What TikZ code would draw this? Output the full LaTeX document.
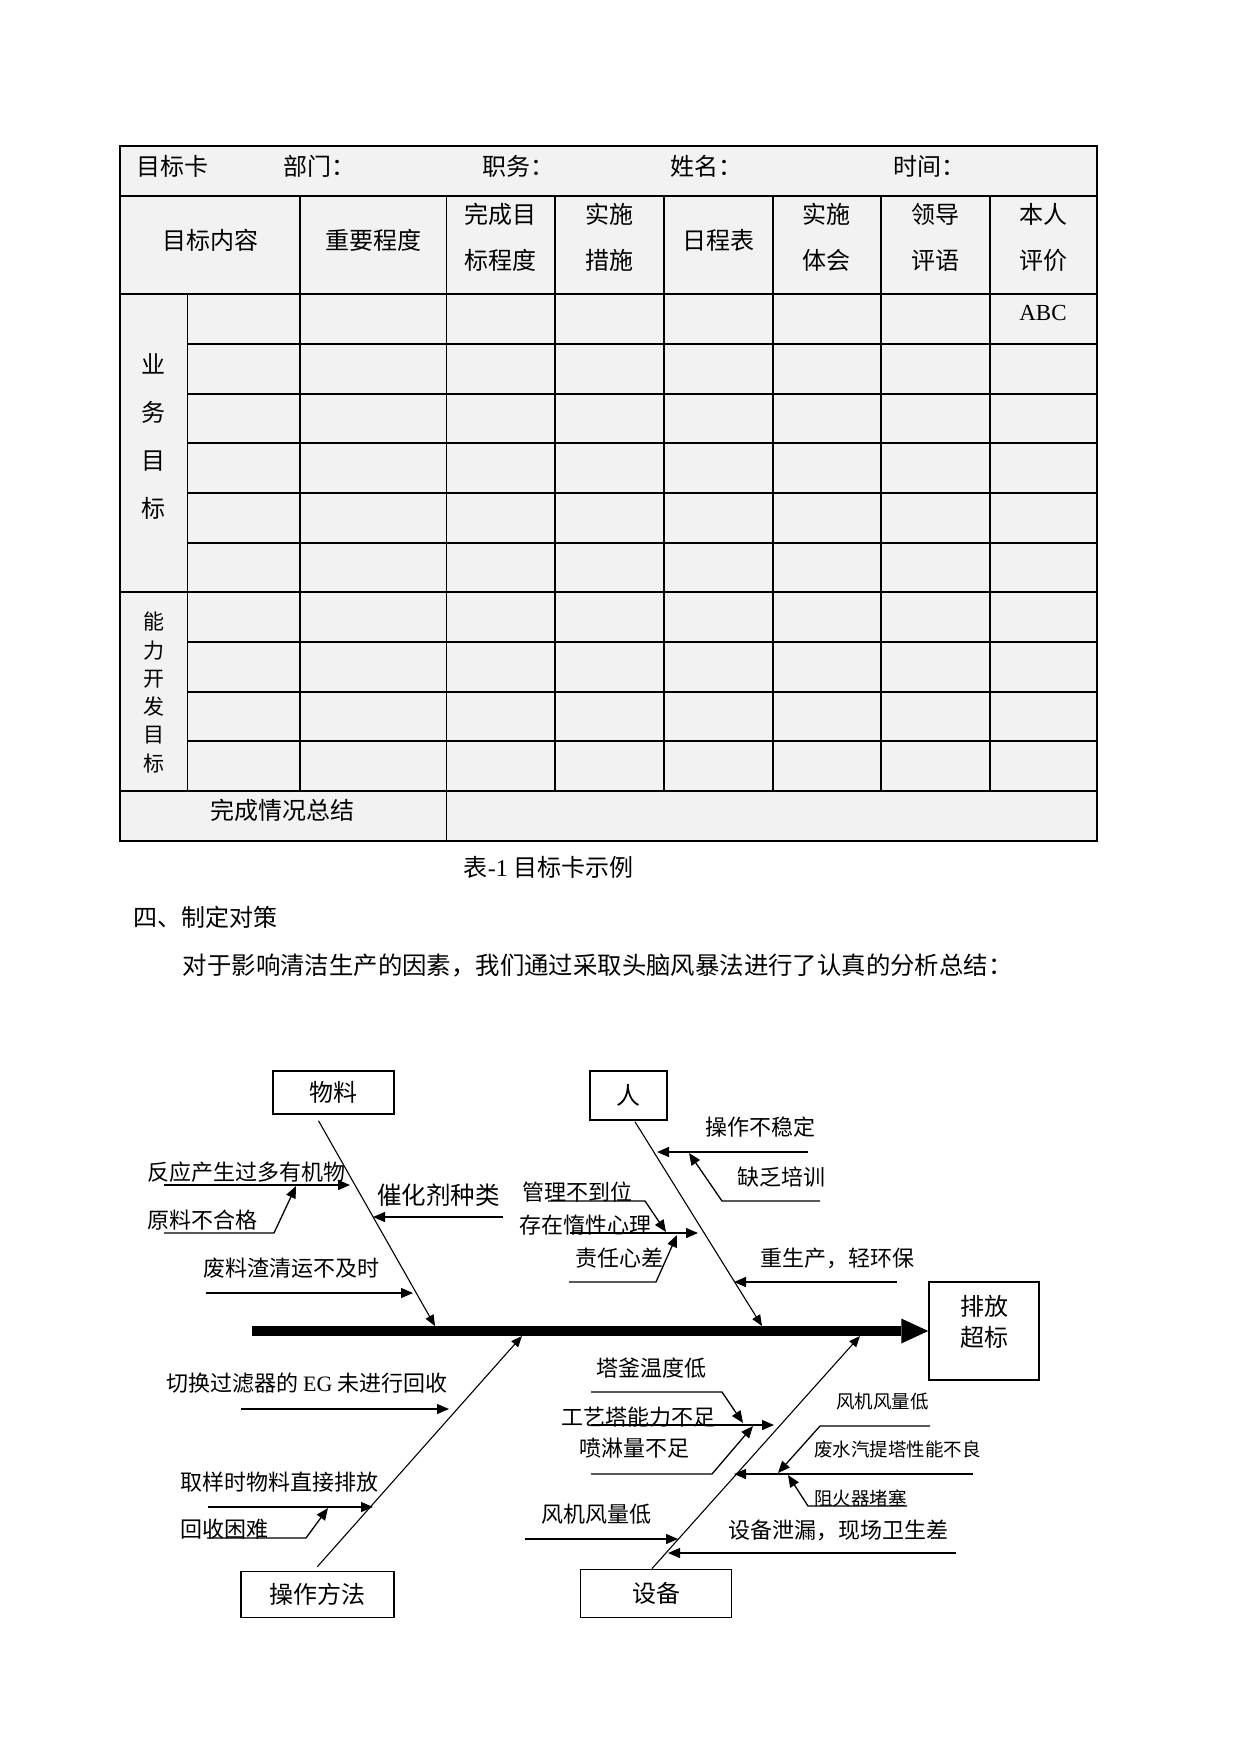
\documentclass[tikz,border=0pt]{standalone}
\usepackage{fontspec}
\setmainfont{Noto Sans CJK SC}
\newfontfamily\latinserif{Liberation Serif}
\usetikzlibrary{arrows.meta}
\definecolor{cardgray}{HTML}{F2F2F2}

\tikzset{
  cell/.style={inner sep=0pt, align=center, font=\fontsize{24}{46}\selectfont},
  lbl/.style={inner sep=0pt, anchor=west, font=\fontsize{22}{26}\selectfont},
  lblsm/.style={inner sep=0pt, anchor=west, font=\fontsize{18.5}{22}\selectfont},
  box/.style={draw, line width=1.5pt, inner sep=0pt, font=\fontsize{24}{31}\selectfont},
  rule/.style={line width=1.1pt},
  bone/.style={line width=1.1pt, -{Triangle[length=11pt,width=9pt]}},
  cause/.style={line width=1.3pt, -{Triangle[length=12pt,width=10pt]}},
}

\begin{document}
\begin{tikzpicture}[x=1pt,y=-1pt]
\useasboundingbox[fill=white] (0,0) rectangle (1241,1754);

% target card table
\fill[cardgray] (120,146) rectangle (1097,841);
\draw[rule] (120,196) -- (1097,196) (120,294) -- (1097,294)
            (120,592) -- (1097,592) (120,791) -- (1097,791);
\draw[rule] (187,344) -- (1097,344) (187,443) -- (1097,443) (187,493) -- (1097,493)
            (187,642) -- (1097,642) (187,692) -- (1097,692) (187,741) -- (1097,741);
\draw[line width=1.6pt] (187,394) -- (1097,394) (187,543) -- (1097,543);
\draw[line width=1pt] (187,294) -- (187,791) (446,196) -- (446,841);
\draw[line width=2pt] (300,196) -- (300,791) (555,196) -- (555,791) (663.6,196) -- (663.6,791)
            (772.6,196) -- (772.6,791) (881,196) -- (881,791) (989.5,196) -- (989.5,791);
\draw[line width=1.7pt] (120,146) rectangle (1097,841);

% header rows
\node[cell, anchor=west] (hcard) at (136,166) {目标卡};
\node[cell, anchor=west] (hdept) at (283,166) {部门：};
\node[cell, anchor=west] (hpost) at (482,166) {职务：};
\node[cell, anchor=west] (hname) at (670,166) {姓名：};
\node[cell, anchor=west] (htime) at (893,166) {时间：};
\node[cell] (tcont) at (210,240) {目标内容};
\node[cell] (timp) at (373,240) {重要程度};
\node[cell] (tdeg) at (500.5,237) {完成目\\标程度};
\node[cell] (tmeas) at (609.3,237) {实施\\措施};
\node[cell] (tsched) at (718,240) {日程表};
\node[cell] (texp) at (826.8,237) {实施\\体会};
\node[cell] (tlead) at (935.2,237) {领导\\评语};
\node[cell] (tself) at (1043.2,237) {本人\\评价};
\node[cell, font=\latinserif\fontsize{23}{26}\selectfont] (abc) at (1043,313) {ABC};

% row groups
\node[cell, font=\fontsize{24}{48}\selectfont] (vbiz) at (153.5,437) {业\\务\\目\\标};
\node[cell, font=\fontsize{21}{28.3}\selectfont] (vdev) at (153.5,692.5) {能\\力\\开\\发\\目\\标};
\node[cell] (tsum) at (282,810) {完成情况总结};

% caption and text
\node[cell] (caption) at (548.5,867) {表{\latinserif -1} 目标卡示例};
\node[cell, anchor=west] (sec4) at (133,917) {四、制定对策};
\node[cell, anchor=west, font=\fontsize{24.4}{28}\selectfont] (intro) at (182.7,965)
  {对于影响清洁生产的因素，我们通过采取头脑风暴法进行了认真的分析总结：};

% fishbone boxes
\node[box, minimum width=121, minimum height=43] (wl) at (333.5,1092.5) {物料};
\node[box, minimum width=77, minimum height=49] (ren) at (628.5,1095.5) {人};
\node[box, minimum width=110, minimum height=98] (out) at (984,1331) {};
\node[cell, font=\fontsize{24}{31}\selectfont] (outtxt) at (984,1322) {排放\\超标};
\node[box, minimum width=153, minimum height=46] (op) at (317.3,1594.5) {操作方法};
\node[box, minimum width=151, minimum height=48] (eq) at (656,1593.3) {设备};

% spine
\coordinate (head) at (252,1331);
\draw[line width=10pt, -{Triangle[length=27pt,width=25pt,line width=0pt]}] (head) -- (out.west);

% main bones
\coordinate (s1) at (435,1326);
\coordinate (s2) at (762,1326);
\coordinate (s3) at (522,1336);
\coordinate (s4) at (860,1336);
\draw[bone] ([xshift=-15pt,yshift=-6pt]wl.south) -- (s1);
\draw[bone] ([xshift=6.5pt,yshift=-1pt]ren.south) -- (s2);
\draw[bone] ([yshift=4pt]op.north) -- (s3);
\draw[bone] ([xshift=-4pt]eq.north) -- (s4);

% material causes
\coordinate (m1a) at (164,1185); \coordinate (m1b) at (350,1185);
\coordinate (m2a) at (164,1233); \coordinate (m2b) at (274,1233); \coordinate (m2c) at (296,1186);
\coordinate (m3a) at (503,1217); \coordinate (m3b) at (373,1217);
\coordinate (m4a) at (206,1293); \coordinate (m4b) at (413,1293);
\draw[cause] (m1a) -- (m1b);
\draw[cause] (m2a) -- (m2b) -- (m2c);
\draw[cause] (m3a) -- (m3b);
\draw[cause] (m4a) -- (m4b);
\node[lbl] (m1) at (147,1172) {反应产生过多有机物};
\node[lbl] (m2) at (147,1220) {原料不合格};
\node[lbl, font=\fontsize{24.5}{28}\selectfont] (m3) at (377,1195) {催化剂种类};
\node[lbl] (m4) at (203,1268) {废料渣清运不及时};

% people causes
\coordinate (p1a) at (808,1152); \coordinate (p1b) at (657,1152);
\coordinate (p2a) at (820,1201); \coordinate (p2b) at (722,1201); \coordinate (p2c) at (689,1153);
\coordinate (p3a) at (897,1282); \coordinate (p3b) at (734,1282);
\coordinate (p4a) at (548,1201); \coordinate (p4b) at (645,1201); \coordinate (p4c) at (666,1232);
\coordinate (p5a) at (570,1233); \coordinate (p5b) at (698,1233);
\coordinate (p6a) at (569,1282); \coordinate (p6b) at (656,1282); \coordinate (p6c) at (677,1235);
\draw[cause] (p1a) -- (p1b);
\draw[cause] (p2a) -- (p2b) -- (p2c);
\draw[cause] (p3a) -- (p3b);
\draw[cause] (p4a) -- (p4b) -- (p4c);
\draw[cause] (p5a) -- (p5b);
\draw[cause] (p6a) -- (p6b) -- (p6c);
\node[lbl] (p1) at (705,1127) {操作不稳定};
\node[lbl] (p2) at (737,1177) {缺乏培训};
\node[lbl] (p3) at (760,1258) {重生产，轻环保};
\node[lbl] (p4) at (522,1192) {管理不到位};
\node[lbl] (p5) at (519,1225) {存在惰性心理};
\node[lbl] (p6) at (575,1258) {责任心差};

% method causes
\coordinate (o1a) at (241,1409); \coordinate (o1b) at (449,1409);
\coordinate (o2a) at (208,1507); \coordinate (o2b) at (373,1507);
\coordinate (o3a) at (207,1538); \coordinate (o3b) at (306,1538); \coordinate (o3c) at (328,1508);
\draw[cause] (o1a) -- (o1b);
\draw[cause] (o2a) -- (o2b);
\draw[cause] (o3a) -- (o3b) -- (o3c);
\node[lbl] (o1) at (166,1383) {切换过滤器的 {\latinserif EG} 未进行回收};
\node[lbl] (o2) at (180,1482) {取样时物料直接排放};
\node[lbl] (o3) at (180,1529) {回收困难};

% equipment causes
\coordinate (e1a) at (591,1392); \coordinate (e1b) at (722,1392); \coordinate (e1c) at (743,1423);
\coordinate (e2a) at (591,1425); \coordinate (e2b) at (774,1425);
\coordinate (e3a) at (591,1474); \coordinate (e3b) at (712,1474); \coordinate (e3c) at (753,1426);
\coordinate (e4a) at (525,1539); \coordinate (e4b) at (678,1539);
\coordinate (e5a) at (930,1426); \coordinate (e5b) at (820,1426); \coordinate (e5c) at (778,1473);
\coordinate (e6a) at (973,1474); \coordinate (e6b) at (734,1474);
\coordinate (e7a) at (907,1506); \coordinate (e7b) at (808,1506); \coordinate (e7c) at (788,1475);
\coordinate (e8a) at (956,1553); \coordinate (e8b) at (668,1553);
\draw[cause] (e1a) -- (e1b) -- (e1c);
\draw[cause] (e2a) -- (e2b);
\draw[cause] (e3a) -- (e3b) -- (e3c);
\draw[cause] (e4a) -- (e4b);
\draw[cause] (e5a) -- (e5b) -- (e5c);
\draw[cause] (e6a) -- (e6b);
\draw[cause] (e7a) -- (e7b) -- (e7c);
\draw[cause] (e8a) -- (e8b);
\node[lbl] (e1) at (596,1368) {塔釜温度低};
\node[lbl] (e2) at (561,1417) {工艺塔能力不足};
\node[lbl] (e3) at (579,1448) {喷淋量不足};
\node[lbl] (e4) at (541,1514) {风机风量低};
\node[lblsm] (e5) at (836,1401) {风机风量低};
\node[lblsm] (e6) at (814,1449) {废水汽提塔性能不良};
\node[lblsm] (e7) at (814,1498) {阻火器堵塞};
\node[lbl] (e8) at (728,1530) {设备泄漏，现场卫生差};
\end{tikzpicture}
\end{document}
